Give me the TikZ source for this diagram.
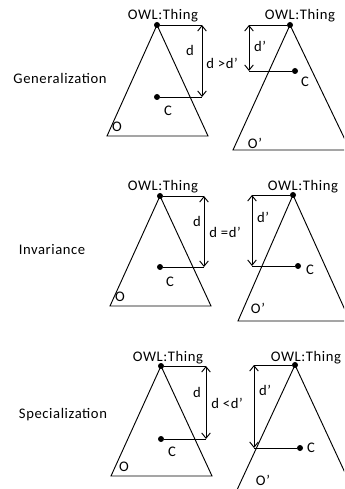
\documentclass[tikz,border=0pt]{standalone}
\usepackage{fontspec}
\setmainfont{Carlito}[LetterSpace=4]
\usetikzlibrary{arrows.meta}

\tikzset{
  dot/.style={circle, fill=black, inner sep=0pt, minimum size=0.18cm},
  lbl/.style={font=\fontsize{12.5}{14}\selectfont, inner sep=0pt},
  dist/.style={{Straight Barb[length=1.6mm, width=2.6mm]}-{Straight Barb[length=1.6mm, width=2.6mm]}}
}

\begin{document}
\begin{tikzpicture}[x=0.03cm, y=-0.03cm, line width=0.8pt]
  \clip (0,0) rectangle (344,489);

  % Generalization
  \node[lbl] (gname) at (60,78) {Generalization};
  \node[dot] (gA) at (157,25) {};
  \node[dot] (gC) at (157,97) {};
  \draw (gA.center) -- (107,136) -- (208,136) -- cycle;
  \coordinate (gtop) at (202,25);
  \coordinate (gbot) at (202,97);
  \draw (gA) -- (gtop);
  \draw[dist] (gtop) -- (gbot);
  \draw (gC) -- (gbot);
  \node[lbl] (gthing) at (163,16) {OWL:Thing};
  \node[lbl] (gd) at (190,50) {d};
  \node[lbl] (gcmp) at (222,63) {d >d’};
  \node[lbl] (gcl) at (168,111) {C};
  \node[lbl] (go) at (117,127) {O};
  % O'
  \node[dot] (gB) at (290,25) {};
  \node[dot] (gD) at (295,71) {};
  \draw (gB.center) -- (233,150) -- (350,150) -- cycle;
  \coordinate (gtop2) at (249,25);
  \coordinate (gbot2) at (249,71);
  \draw (gB) -- (gtop2);
  \draw[dist] (gtop2) -- (gbot2);
  \draw (gD) -- (gbot2);
  \node[lbl] (gthing2) at (300,16) {OWL:Thing};
  \node[lbl] (gd2) at (260,46) {d’};
  \node[lbl] (gcl2) at (305,82) {C};
  \node[lbl] (go2) at (255,143) {O’};

  % Invariance
  \node[lbl] (iname) at (52,250) {Invariance};
  \node[dot] (iA) at (160,196) {};
  \node[dot] (iC) at (160,267) {};
  \draw (iA.center) -- (110,306) -- (211,306) -- cycle;
  \coordinate (itop) at (204,196);
  \coordinate (ibot) at (204,267);
  \draw (iA) -- (itop);
  \draw[dist] (itop) -- (ibot);
  \draw (iC) -- (ibot);
  \node[lbl] (ithing) at (163,187) {OWL:Thing};
  \node[lbl] (id) at (197,221) {d};
  \node[lbl] (icmp) at (225,232) {d =d’};
  \node[lbl] (icl) at (170,282) {C};
  \node[lbl] (io) at (120,297) {O};
  % O'
  \node[dot] (iB) at (293,195) {};
  \node[dot] (iD) at (298,266) {};
  \draw (iB.center) -- (238,321) -- (350,321) -- cycle;
  \coordinate (itop2) at (252,195);
  \coordinate (ibot2) at (252,266);
  \draw (iB) -- (itop2);
  \draw[dist] (itop2) -- (ibot2);
  \draw (iD) -- (ibot2);
  \node[lbl] (ithing2) at (303,187) {OWL:Thing};
  \node[lbl] (id2) at (263,217) {d’};
  \node[lbl] (icl2) at (310,270) {C};
  \node[lbl] (io2) at (258,308) {O’};

  % Specialization
  \node[lbl] (sname) at (63,415) {Specialization};
  \node[dot] (sA) at (161,366) {};
  \node[dot] (sC) at (161,439) {};
  \draw (sA.center) -- (111,476) -- (212,476) -- cycle;
  \coordinate (stop) at (206,366);
  \coordinate (sbot) at (206,439);
  \draw (sA) -- (stop);
  \draw[dist] (stop) -- (sbot);
  \draw (sC) -- (sbot);
  \node[lbl] (sthing) at (168,358) {OWL:Thing};
  \node[lbl] (sd) at (197,392) {d};
  \node[lbl] (scmp) at (227,403) {d <d’};
  \node[lbl] (scl) at (172,452) {C};
  \node[lbl] (so) at (124,467) {O};
  % O'
  \node[dot] (sB) at (295,365) {};
  \node[dot] (sD) at (300,448) {};
  \draw (sB.center) -- (230,505);
  \draw (sB.center) -- (360,505);
  \coordinate (stop2) at (254,365);
  \coordinate (sbot2) at (254,448);
  \draw (sB) -- (stop2);
  \draw[dist] (stop2) -- (sbot2);
  \draw (sD) -- (sbot2);
  \node[lbl] (sthing2) at (306,358) {OWL:Thing};
  \node[lbl] (sd2) at (265,390) {d’};
  \node[lbl] (scl2) at (311,448) {C};
  \node[lbl] (so2) at (263,480) {O’};
\end{tikzpicture}
\end{document}
